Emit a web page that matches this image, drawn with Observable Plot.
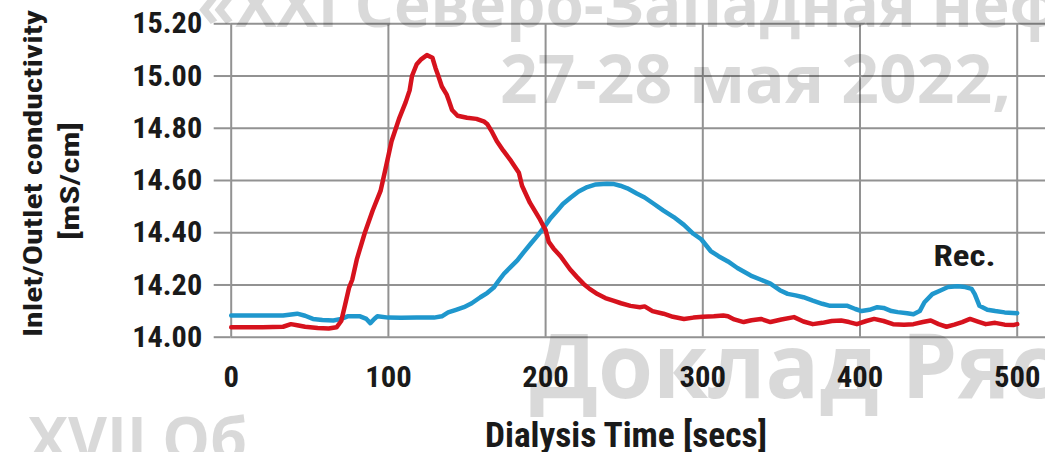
<!DOCTYPE html>
<html>
<head>
<meta charset="utf-8">
<script src="https://cdn.jsdelivr.net/npm/d3@7"></script>
<script src="https://cdn.jsdelivr.net/npm/@observablehq/plot@0.6"></script>
<style>
  html, body { margin: 0; padding: 0; background: #fff; }
  #chart { width: 1045px; height: 452px; overflow: hidden; position: relative; }
</style>
</head>
<body>
<div id="chart"></div>
<script>
// Inlet conductivity (red), mS/cm over dialysis time in seconds
const inletTime = [0, 20, 33, 38, 42, 47, 55, 62, 67, 70, 72.5, 75, 77, 80, 85, 90, 95, 98, 102, 107, 111, 113.5, 115, 118, 121, 124.5, 128, 130, 131.5, 134, 137, 138.5, 140.5, 144, 150, 156, 161, 163, 166, 169, 173, 178, 183, 185, 190, 196.5, 200, 202, 205, 209.5, 215.5, 220, 224, 228, 233, 238, 243, 248, 254, 260, 263, 268, 275, 281, 288, 294, 300, 307, 313, 316, 320, 326, 331, 337, 343, 350, 358, 364, 370, 376, 382, 388, 393, 398, 404, 409, 415, 421, 428, 434, 440, 445, 450, 455, 460, 465, 470, 475, 480, 486, 492, 498, 500];
const inletValue = [14.038, 14.038, 14.040, 14.050, 14.046, 14.040, 14.035, 14.033, 14.038, 14.062, 14.125, 14.19, 14.22, 14.30, 14.40, 14.485, 14.56, 14.64, 14.75, 14.84, 14.90, 14.945, 15.00, 15.045, 15.065, 15.08, 15.07, 15.03, 15.005, 14.96, 14.93, 14.905, 14.87, 14.848, 14.84, 14.836, 14.825, 14.815, 14.785, 14.75, 14.715, 14.675, 14.63, 14.58, 14.515, 14.45, 14.41, 14.365, 14.34, 14.31, 14.26, 14.23, 14.205, 14.185, 14.165, 14.15, 14.14, 14.13, 14.12, 14.115, 14.118, 14.10, 14.09, 14.078, 14.07, 14.075, 14.078, 14.08, 14.083, 14.08, 14.068, 14.058, 14.065, 14.07, 14.058, 14.068, 14.077, 14.06, 14.05, 14.055, 14.062, 14.064, 14.058, 14.05, 14.062, 14.07, 14.062, 14.05, 14.048, 14.05, 14.058, 14.064, 14.05, 14.04, 14.048, 14.058, 14.07, 14.06, 14.05, 14.055, 14.048, 14.047, 14.05];

// Outlet conductivity (blue)
const outletTime = [0, 15, 33, 42, 47, 52, 58, 65, 70, 74, 82, 86, 88.5, 91, 93, 100, 108, 118, 129, 134, 138, 143, 148, 153, 158.5, 163, 167, 170, 173.5, 178, 182, 186, 190.5, 195, 199, 203, 207.5, 211, 216, 221, 226.5, 232, 239, 243, 247.5, 252, 258, 263, 269, 275, 281.5, 288, 294, 299, 305, 310, 316, 322, 330.5, 337, 343, 349, 354, 359, 364, 370, 376, 381, 387, 392, 397, 401, 406, 411, 415, 420, 424, 430, 434, 438, 441, 446, 451.5, 456, 462, 467, 471, 473, 476, 481, 486, 492, 500];
const outletValue = [14.083, 14.083, 14.083, 14.09, 14.082, 14.07, 14.066, 14.064, 14.07, 14.08, 14.08, 14.07, 14.054, 14.07, 14.08, 14.075, 14.074, 14.075, 14.075, 14.08, 14.095, 14.105, 14.115, 14.13, 14.153, 14.17, 14.19, 14.215, 14.243, 14.27, 14.294, 14.325, 14.358, 14.39, 14.42, 14.455, 14.485, 14.51, 14.535, 14.558, 14.575, 14.585, 14.588, 14.587, 14.58, 14.57, 14.55, 14.535, 14.51, 14.485, 14.46, 14.43, 14.396, 14.375, 14.33, 14.31, 14.29, 14.265, 14.236, 14.22, 14.205, 14.18, 14.166, 14.16, 14.153, 14.14, 14.128, 14.12, 14.12, 14.12, 14.108, 14.10, 14.105, 14.115, 14.112, 14.10, 14.096, 14.092, 14.088, 14.10, 14.134, 14.165, 14.18, 14.192, 14.195, 14.192, 14.185, 14.165, 14.12, 14.105, 14.10, 14.095, 14.092];

const xTicks = [0, 100, 200, 300, 400, 500];
const yTicks = [14.0, 14.2, 14.4, 14.6, 14.8, 15.0, 15.2];

const yTitle = ["Inlet/Outlet conductivity", "[mS/cm]"];
const xTitle = "Dialysis Time [secs]";
const recoveryLabel = "Rec.";

const inlet = inletTime.map((t, i) => ({t, v: inletValue[i]}));
const outlet = outletTime.map((t, i) => ({t, v: outletValue[i]}));

const NARROW = '"Liberation Sans Narrow", "Arial Narrow", "Roboto Condensed", sans-serif';
const GRID = "#929292";
const INK = "#1a1a1a";

const plot = Plot.plot({
  width: 1045,
  height: 452,
  marginLeft: 230.7,
  marginRight: 0,
  marginTop: 23.3,
  marginBottom: 115.3,
  x: {domain: [0, 518]},
  y: {domain: [14.0, 15.2]},
  style: {fontFamily: NARROW, fontSize: "30px", fontWeight: "bold", color: INK, background: "#fff"},
  marks: [
    Plot.gridY(yTicks, {stroke: GRID, strokeOpacity: 1, strokeWidth: 2}),
    Plot.gridX(xTicks, {stroke: GRID, strokeOpacity: 1, strokeWidth: 2}),
    Plot.axisY(yTicks, {tickSize: 17, tickPadding: 12, tickFormat: d3.format(".2f"), stroke: GRID, strokeWidth: 2, fill: INK, label: null}),
    Plot.axisX(xTicks, {tickSize: 0, tickPadding: 28, tickFormat: d3.format("d"), fill: INK, label: null}),
    Plot.line(outlet, {x: "t", y: "v", stroke: "#1f97cd", strokeWidth: 4.5, strokeLinejoin: "round"}),
    Plot.line(inlet, {x: "t", y: "v", stroke: "#d6121d", strokeWidth: 4.5, strokeLinejoin: "round"}),
    // recovery bump annotation
    Plot.text([recoveryLabel], {x: 466.5, y: 14.309, text: d => d, fill: INK, fontSize: 29, fontWeight: "bold"})
  ]
});

const svg = d3.select(plot);

// condensed lettering: fit tick labels and the annotation to fixed widths
const DIGIT = 15.5;
svg.selectAll("g[aria-label='y-axis tick label'] text")
  .attr("textLength", 70).attr("lengthAdjust", "spacingAndGlyphs");
svg.selectAll("g[aria-label='x-axis tick label'] text")
  .each(function() { d3.select(this).attr("textLength", DIGIT * this.textContent.length).attr("lengthAdjust", "spacingAndGlyphs"); });
svg.selectAll("text").filter(function() { return this.textContent === recoveryLabel; })
  .attr("textLength", 62).attr("lengthAdjust", "spacingAndGlyphs");

// axis titles
const title = (sel) => sel.attr("text-anchor", "middle").attr("font-family", NARROW)
  .attr("font-weight", "bold").attr("fill", INK).attr("lengthAdjust", "spacingAndGlyphs");
svg.append("text").call(title)
  .attr("transform", "translate(42,173.5) rotate(-90)")
  .attr("font-size", 26).attr("textLength", 327)
  .text(yTitle[0]);
svg.append("text").call(title)
  .attr("transform", "translate(79,181) rotate(-90)")
  .attr("font-size", 26).attr("textLength", 118)
  .text(yTitle[1]);
svg.append("text").call(title)
  .attr("x", 626).attr("y", 446.7)
  .attr("font-size", 35).attr("textLength", 282)
  .text(xTitle);

// conference watermark over the figure
const wm = svg.append("g")
  .attr("font-family", '"Open Sans", sans-serif').attr("font-weight", 700)
  .attr("text-anchor", "start")
  .attr("fill", "#000").attr("fill-opacity", 0.15);
wm.append("text").attr("x", 197).attr("y", 27).attr("font-size", 62).text("«XXI Северо-Западная неф");
wm.append("text").attr("x", 500).attr("y", 103).attr("font-size", 66).text("27-28 мая 2022,");
wm.append("text").attr("x", 530).attr("y", 398).attr("font-size", 89).text("Доклад Ряс");
wm.append("text").attr("x", 28).attr("y", 461).attr("font-size", 60).text("XVII Об");

document.getElementById("chart").appendChild(plot);
</script>
</body>
</html>
